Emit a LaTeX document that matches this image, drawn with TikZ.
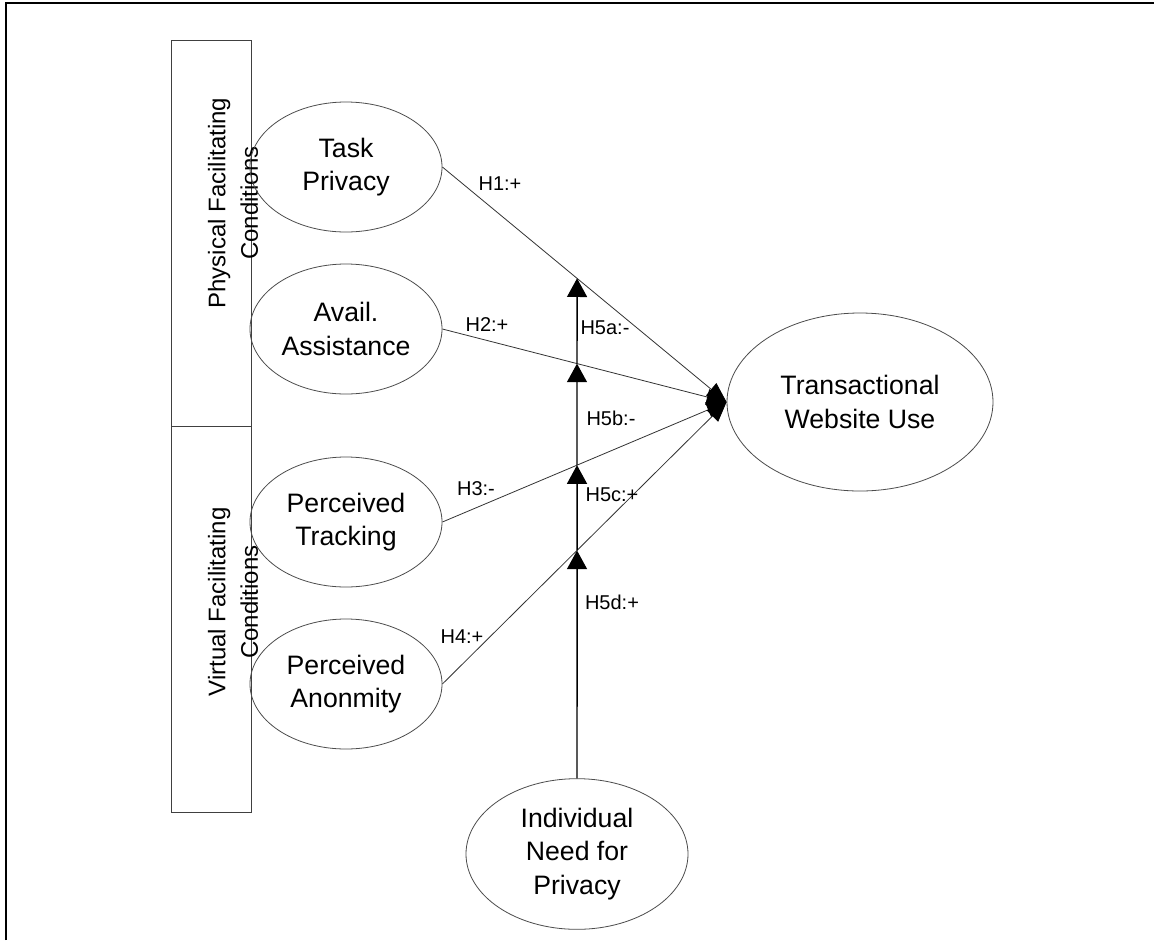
\documentclass[tikz,border=0pt]{standalone}
\usepackage{fontspec}
\setmainfont{Liberation Sans}
\usetikzlibrary{arrows.meta,shapes.geometric}
\begin{document}
\begin{tikzpicture}[x=0.75pt,y=-0.75pt,
  cons/.style={ellipse,draw=black!70,line width=0.6pt,inner sep=0pt,align=center,font=\fontsize{20}{25}\selectfont},
  smallc/.style={cons,minimum width=144pt,minimum height=97.5pt},
  grp/.style={rectangle,draw=black!75,line width=0.75pt,inner sep=0pt,minimum width=60pt,minimum height=289.5pt},
  grplabel/.style={rotate=90,align=center,inner sep=0pt,font=\fontsize{18}{24.4}\selectfont},
  hpath/.style={draw=black!80,line width=0.6pt,-{Triangle[length=15pt,width=12pt,color=black,fill=black]}},
  modline/.style={draw=black,line width=1.1pt,-{Triangle[length=14pt,width=15pt]}},
  hlab/.style={font=\fontsize{15}{18}\selectfont,inner sep=0pt}]
\useasboundingbox (0,0) rectangle (1154,940);
\fill[white] (0,0) rectangle (1154,940);
\draw[line width=1.5pt] (6,940) -- (6,3) -- (1154,3);

% group boxes
\node[grp] (phys) at (211,233) {};
\node[grp] (virt) at (211,619) {};
\node[grplabel] (physl) at (233,203) {Physical Facilitating\\Conditions};
\node[grplabel] (virtl) at (233,602) {Virtual Facilitating\\Conditions};

% constructs
\node[smallc] (tp) at (346,167) {Task\\Privacy};
\node[smallc] (aa) at (346,329) {Avail.\\Assistance};
\node[smallc] (ptr) at (346,522) {Perceived\\Tracking};
\node[smallc] (pan) at (346,684) {Perceived\\Anonmity};
\node[cons,minimum width=199.5pt,minimum height=133.5pt] (tw) at (860,402) {Transactional\\Website Use};
\node[cons,minimum width=166.5pt,minimum height=113pt] (ind) at (577,854) {Individual\\Need for\\Privacy};

% main paths
\draw[hpath] (tp.east) -- (tw.west);
\draw[hpath] (aa.east) -- (tw.west);
\draw[hpath] (ptr.east) -- (tw.west);
\draw[hpath] (pan.east) -- (tw.west);

% moderation
\coordinate (m1) at (intersection of tp.east--tw.west and ind.north--ind.south);
\coordinate (m2) at (intersection of aa.east--tw.west and ind.north--ind.south);
\coordinate (m3) at (intersection of ptr.east--tw.west and ind.north--ind.south);
\coordinate (m4) at (intersection of pan.east--tw.west and ind.north--ind.south);
\draw[modline] (ind.north) -- (m4);
\draw[modline] (m4) -- (m3);
\draw[modline] (m3) -- (m2);
\draw[modline] (m2) -- (m1);

% labels
\node[hlab] (h1) at (500,184) {H1:+};
\node[hlab] (h2) at (487,325) {H2:+};
\node[hlab] (h3) at (476,489) {H3:-};
\node[hlab] (h4) at (462,637) {H4:+};
\node[hlab] (h5a) at (605,328) {H5a:-};
\node[hlab] (h5b) at (611,418) {H5b:-};
\node[hlab] (h5c) at (612,495) {H5c:+};
\node[hlab] (h5d) at (612,602) {H5d:+};
\end{tikzpicture}
\end{document}
